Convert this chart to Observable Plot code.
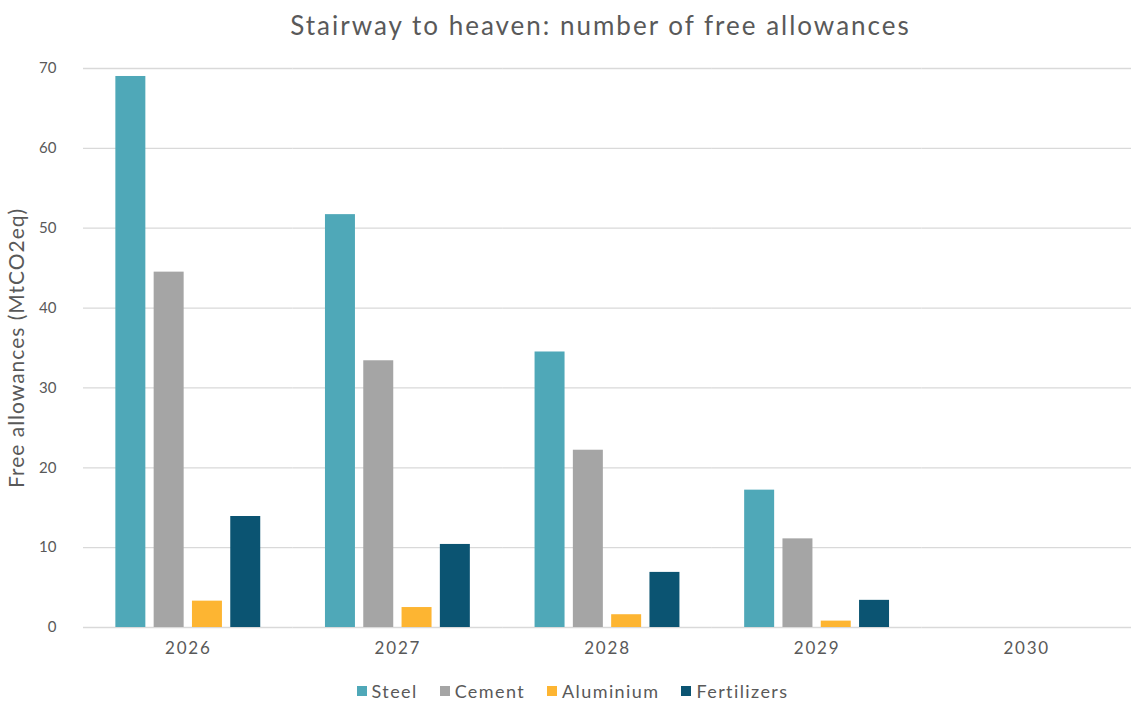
<!DOCTYPE html>
<html>
<head>
<meta charset="utf-8">
<script src="https://cdn.jsdelivr.net/npm/d3@7"></script>
<script src="https://cdn.jsdelivr.net/npm/@observablehq/plot@0.6"></script>
<style>
  html, body { margin: 0; padding: 0; background: #fff; }
  body { position: relative; width: 1131px; height: 702px; overflow: hidden; font-family: Lato, sans-serif; color: #595959; }
  #title { height: 48px; line-height: 50px; text-align: center; padding-left: 70px; font-size: 26px; color: #595959; font-family: Lato, sans-serif; letter-spacing: 2px; }
  #legend { position: absolute; left: 0; top: 679px; width: 1131px; height: 24px; display: flex; justify-content: center; align-items: center; gap: 22px; padding-left: 14px; box-sizing: border-box; font-size: 18px; line-height: 24px; color: #595959; letter-spacing: 1.4px; }
  #legend .item { display: flex; align-items: center; gap: 5px; }
  #legend .sw { width: 10px; height: 10px; display: inline-block; }
</style>
</head>
<body>
<div id="title">Stairway to heaven: number of free allowances</div>
<div id="chart"></div>
<div id="legend"></div>
<script>
const years = ["2026", "2027", "2028", "2029", "2030"];
const sectors = ["Steel", "Cement", "Aluminium", "Fertilizers"];
const colors = ["#4FA8B8", "#A5A5A5", "#FDB532", "#0B5472"];
const steel = [69.0, 51.7, 34.5, 17.2, 0];
const cement = [44.5, 33.4, 22.2, 11.1, 0];
const aluminium = [3.3, 2.5, 1.6, 0.8, 0];
const fertilizers = [13.9, 10.4, 6.9, 3.4, 0];
const yTicks = [0, 10, 20, 30, 40, 50, 60, 70];
const yLabel = "Free allowances (MtCO2eq)";

const series = [steel, cement, aluminium, fertilizers];
const data = [];
years.forEach((yr, i) => {
  sectors.forEach((s, j) => data.push({year: yr, sector: s, value: series[j][i]}));
});

const chart = Plot.plot({
  width: 1131,
  height: 619,
  marginLeft: 83,
  marginRight: 0,
  marginTop: 20,
  marginBottom: 40,
  style: {fontFamily: "Lato, sans-serif", color: "#595959", background: "#fff"},
  fx: {domain: years, padding: 0, round: false},
  x: {domain: sectors, paddingInner: 0.217, paddingOuter: 0.845, round: false, axis: null},
  y: {domain: [0, 70]},
  color: {domain: sectors, range: colors},
  marks: [
    Plot.ruleY(yTicks, {stroke: "#d9d9d9", strokeWidth: 1.3}),
    Plot.barY(data, {fx: "year", x: "sector", y: "value", fill: "sector"}),
    Plot.axisY({ticks: yTicks, tickSize: 0, tickPadding: 27, fontSize: 15, label: yLabel, labelAnchor: "center", labelArrow: "none", labelOffset: 74}),
    Plot.axisFx({anchor: "bottom", tickSize: 0, tickPadding: 14, fontSize: 17, label: null})
  ]
});
document.getElementById("chart").appendChild(chart);

d3.select(chart).selectAll("g[aria-label='y-axis label'] text, g[aria-label='y-axis label']").attr("font-size", 21).attr("letter-spacing", "1px");
d3.select(chart).selectAll("g[aria-label='fx-axis tick label']").attr("letter-spacing", "1.8px");

const legend = d3.select("#legend");
sectors.forEach((s, i) => {
  const it = legend.append("div").attr("class", "item");
  it.append("span").attr("class", "sw").style("background", colors[i]);
  it.append("span").text(s);
});
</script>
</body>
</html>
